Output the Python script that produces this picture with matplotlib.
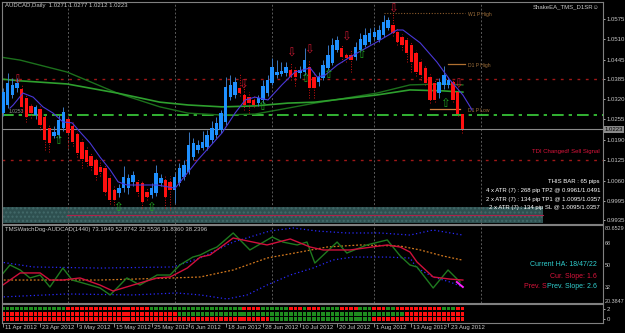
import matplotlib
matplotlib.use("Agg")
import matplotlib.pyplot as plt
from matplotlib.patches import Rectangle
import matplotlib.transforms as mtransforms

plt.rcParams['font.family'] = ['Liberation Sans', 'DejaVu Sans']

# daily candles, 11 Apr 2012 .. 28 Aug 2012
opens = [1.0276, 1.0301, 1.0333, 1.0355, 1.0352, 1.0323, 1.0298, 1.0269, 1.0288, 1.0263,
         1.0228, 1.0202, 1.0205, 1.0228, 1.0256, 1.0234, 1.0209, 1.0183, 1.0157, 1.0138,
         1.0126, 1.0103, 1.0100, 1.0068, 1.0030, 1.0020, 1.0036, 1.0036, 1.0055, 1.0055,
         1.0052, 1.0024, 1.0014, 1.0020, 1.0052, 1.0062, 1.0055, 1.0030, 1.0052, 1.0071,
         1.0087, 1.0135, 1.0157, 1.0164, 1.0167, 1.0189, 1.0205, 1.0221, 1.0247, 1.0327,
         1.0333, 1.0355, 1.0333, 1.0327, 1.0317, 1.0307, 1.0317, 1.0339, 1.0371, 1.0397,
         1.0400, 1.0403, 1.0413, 1.0413, 1.0403, 1.0406, 1.0422, 1.0390, 1.0374, 1.0387,
         1.0419, 1.0435, 1.0476, 1.0483, 1.0461, 1.0461, 1.0454, 1.0476, 1.0492, 1.0502,
         1.0518, 1.0508, 1.0524, 1.0547, 1.0556, 1.0534, 1.0518, 1.0508, 1.0492, 1.0467,
         1.0438, 1.0419, 1.0390, 1.0371, 1.0339, 1.0365, 1.0365, 1.0374, 1.0343, 1.0271]
closes = [1.0343, 1.0371, 1.0365, 1.0371, 1.0295, 1.0263, 1.0276, 1.0295, 1.0237, 1.0189,
          1.0180, 1.0215, 1.0253, 1.0279, 1.0212, 1.0183, 1.0148, 1.0129, 1.0119, 1.0106,
          1.0078, 1.0087, 1.0024, 0.9998, 0.9998, 1.0036, 1.0071, 1.0068, 1.0078, 1.0024,
          0.9992, 1.0008, 1.0036, 1.0084, 1.0068, 1.0008, 1.0030, 1.0071, 1.0100, 1.0110,
          1.0173, 1.0180, 1.0173, 1.0183, 1.0205, 1.0228, 1.0244, 1.0276, 1.0358, 1.0365,
          1.0374, 1.0339, 1.0301, 1.0307, 1.0301, 1.0323, 1.0362, 1.0381, 1.0422, 1.0406,
          1.0409, 1.0422, 1.0390, 1.0390, 1.0413, 1.0445, 1.0355, 1.0355, 1.0390, 1.0429,
          1.0461, 1.0492, 1.0508, 1.0454, 1.0451, 1.0445, 1.0486, 1.0512, 1.0524, 1.0531,
          1.0534, 1.0540, 1.0566, 1.0572, 1.0531, 1.0502, 1.0492, 1.0467, 1.0438, 1.0406,
          1.0397, 1.0371, 1.0317, 1.0317, 1.0374, 1.0397, 1.0381, 1.0317, 1.0272, 1.0223]
highs = [1.0355, 1.0403, 1.0387, 1.0387, 1.0365, 1.0333, 1.0307, 1.0301, 1.0298, 1.0272,
         1.0240, 1.0234, 1.0269, 1.0295, 1.0269, 1.0247, 1.0218, 1.0193, 1.0167, 1.0151,
         1.0132, 1.0126, 1.0110, 1.0078, 1.0043, 1.0049, 1.0106, 1.0081, 1.0091, 1.0068,
         1.0062, 1.0036, 1.0052, 1.0110, 1.0081, 1.0075, 1.0075, 1.0084, 1.0116, 1.0126,
         1.0215, 1.0196, 1.0189, 1.0218, 1.0221, 1.0250, 1.0263, 1.0285, 1.0390, 1.0397,
         1.0390, 1.0400, 1.0371, 1.0343, 1.0330, 1.0333, 1.0381, 1.0397, 1.0451, 1.0445,
         1.0438, 1.0438, 1.0438, 1.0425, 1.0425, 1.0483, 1.0445, 1.0406, 1.0406, 1.0445,
         1.0492, 1.0515, 1.0521, 1.0492, 1.0470, 1.0476, 1.0502, 1.0531, 1.0547, 1.0547,
         1.0550, 1.0556, 1.0588, 1.0582, 1.0595, 1.0547, 1.0528, 1.0518, 1.0502, 1.0476,
         1.0448, 1.0429, 1.0400, 1.0381, 1.0387, 1.0425, 1.0390, 1.0384, 1.0358, 1.0277]
lows = [1.0266, 1.0291, 1.0323, 1.0343, 1.0279, 1.0247, 1.0260, 1.0256, 1.0221, 1.0157,
        1.0151, 1.0196, 1.0196, 1.0218, 1.0164, 1.0170, 1.0135, 1.0100, 1.0106, 1.0094,
        1.0062, 1.0075, 1.0014, 0.9985, 0.9982, 1.0008, 1.0024, 1.0017, 1.0043, 1.0011,
        0.9972, 0.9998, 1.0004, 1.0011, 1.0043, 0.9972, 0.9966, 0.9988, 1.0043, 1.0062,
        1.0081, 1.0126, 1.0148, 1.0157, 1.0157, 1.0180, 1.0196, 1.0212, 1.0237, 1.0317,
        1.0323, 1.0330, 1.0285, 1.0276, 1.0295, 1.0298, 1.0307, 1.0330, 1.0365, 1.0387,
        1.0394, 1.0394, 1.0381, 1.0362, 1.0387, 1.0397, 1.0323, 1.0323, 1.0362, 1.0381,
        1.0413, 1.0429, 1.0470, 1.0438, 1.0438, 1.0406, 1.0445, 1.0470, 1.0486, 1.0496,
        1.0508, 1.0502, 1.0518, 1.0540, 1.0521, 1.0492, 1.0476, 1.0438, 1.0406, 1.0394,
        1.0381, 1.0365, 1.0307, 1.0311, 1.0323, 1.0352, 1.0355, 1.0311, 1.0266, 1.0212]

# fast MA (purple), read at sample bars
ma_bar = [1.5, 2.2, 4.3, 6.5, 8.6, 10.8, 12.9, 14.9, 16.6, 18.75, 20.9, 23.1, 24.8, 26.7, 30.2,
          33.2, 37.1, 42.0, 47.2, 50.0, 52.2, 54.3, 57.1, 60.1, 62.9, 66.2, 67.7, 69.4, 72.0,
          74.8, 80.6, 84.9, 86.2, 89.9, 93.5, 96.3, 99.1, 101.1]
ma_val = [1.0291, 1.0301, 1.0339, 1.0326, 1.0295, 1.0275, 1.0247, 1.0244, 1.0215, 1.0180, 1.0135,
          1.0094, 1.0056, 1.0046, 1.0046, 1.0046, 1.0036, 1.0126, 1.0212, 1.0275, 1.0317, 1.0326,
          1.0317, 1.0365, 1.0406, 1.0419, 1.0390, 1.0396, 1.0428, 1.0454, 1.0502, 1.0540, 1.0540,
          1.0499, 1.0438, 1.0381, 1.0333, 1.0285]

# slow MAs (green)
slow_bar = [-0.65, 3.7, 13.8, 24.6, 33.8, 39.9, 47.2, 54.3, 61.4, 67.2, 80.6, 87.7, 94.8, 99.1]
ma_dark = [1.0454, 1.0444, 1.0406, 1.0339, 1.0295, 1.0275, 1.0269, 1.0272, 1.0291, 1.0307,
           1.0339, 1.0365, 1.0368, 1.0365]
ma_bright = [1.0384, 1.0378, 1.0368, 1.0339, 1.0310, 1.0301, 1.0295, 1.0298, 1.0307, 1.0310,
             1.0333, 1.0349, 1.0346, 1.0342]

red_arrow_bar = [3, 51.7, 62.1, 65.9, 73.9, 84.1, 98.1]
red_arrow_val = [1.0381, 1.0365, 1.0467, 1.0476, 1.0518, 1.0608, 1.0368]
green_arrow_bar = [11.9, 24.8, 31.9, 55.8, 65.1, 70.0, 77.2, 95.3]
green_arrow_val = [1.0189, 0.9973, 0.9973, 1.0295, 1.0384, 1.0397, 1.0463, 1.0307]

price_ticks = [1.0575, 1.0510, 1.0445, 1.0385, 1.0320, 1.0255, 1.0190, 1.0125, 1.0060, 0.9995, 0.9935]
month_bars = [14, 37, 58, 80, 103]

# TDI indicator
rsi_bar = [-0.65, 1.5, 3.7, 5.8, 8.0, 10.1, 12.9, 14.9, 17.2, 20.9, 23.1, 26.7, 29.5, 33.2, 36.0,
           38.1, 40.9, 42.5, 44.6, 46.1, 49.6, 53.2, 58.0, 60.3, 63.4, 65.5, 67.2, 72.0, 74.1,
           78.4, 82.8, 85.6, 87.7, 89.2, 92.7, 95.9, 98.5]
rsi_val = [40.2, 50.0, 45.9, 39.4, 41.8, 32.0, 47.5, 37.7, 35.3, 31.2, 25.5, 39.4, 33.6, 41.8, 41.8,
           50.0, 56.5, 58.2, 62.3, 64.7, 76.2, 62.3, 72.9, 68.8, 66.4, 68.8, 51.6, 68.8, 59.8,
           66.4, 70.5, 57.4, 50.0, 48.4, 31.2, 45.9, 36.1]
sig_bar = [-0.65, 3.7, 8.0, 10.1, 12.9, 16.6, 20.9, 23.7, 28.0, 33.2, 36.0, 39.7, 42.5, 44.6, 49.6,
           56.9, 61.9, 66.2, 69.0, 74.8, 82.8, 85.6, 87.7, 89.2, 92.7, 96.3, 99.1]
sig_val = [32.0, 43.5, 43.5, 37.7, 37.7, 39.4, 33.6, 28.7, 33.6, 39.4, 40.2, 47.5, 56.5, 58.2, 72.1,
           66.4, 71.3, 64.7, 62.3, 62.3, 66.4, 64.7, 60.6, 52.5, 40.2, 38.5, 37.7]
base_bar = [-0.65, 20.9, 36.6, 42.5, 49.6, 56.9, 64.0, 69.8, 76.9, 85.6, 89.9, 94.8, 98.9]
base_val = [37.7, 37.7, 39.4, 40.2, 45.9, 55.7, 60.6, 64.7, 66.4, 65.5, 62.3, 57.4, 54.1]
up_bar = [-0.65, 6.5, 20.9, 36.6, 42.5, 49.6, 57.5, 62.5, 67.7, 74.1, 81.3, 87.7, 92.7, 99.1]
up_val = [52.5, 48.4, 47.5, 48.4, 55.7, 68.8, 77.8, 80.3, 77.8, 76.2, 76.2, 74.5, 78.6, 74.5]
lo_bar = [-0.65, 13.8, 28.0, 37.5, 42.5, 48.3, 52.6, 56.9, 61.9, 66.8, 71.1, 75.4, 82.8, 87.7,
          89.2, 92.7, 96.3, 99.1]
lo_val = [23.8, 26.3, 25.5, 27.1, 25.5, 22.2, 25.5, 33.6, 41.8, 47.5, 54.1, 56.5, 56.5, 55.7,
          47.5, 40.2, 36.1, 32.0]
slope_bar = [97.8, 99.1]
slope_val = [36.1, 32.0]

# signal rows (2 = top, 0 = bottom), g = green, r = red
row2 = 'g' * 14 + 'r' * 18 + 'g' * 20 + 'r' * 4 + 'g' * 6 + 'r' * 3 + 'g' + 'r' * 3 + 'g' * 4 + 'r' * 4 + 'g' * 3 + 'r' * 3 + 'g' * 2 + 'r' * 10 + 'g' * 3 + 'r' * 2
row1 = 'r' * 38 + 'g' * 49 + 'r' * 13
row0 = 'r' * 58 + 'g' * 22 + 'r' * 20

date_bars = [0, 8, 16, 24, 32, 40, 48, 56, 64, 72, 80, 88, 96]
date_labels = ['11 Apr 2012', '23 Apr 2012', '3 May 2012', '15 May 2012', '25 May 2012', '6 Jun 2012',
               '18 Jun 2012', '28 Jun 2012', '10 Jul 2012', '20 Jul 2012', '1 Aug 2012',
               '13 Aug 2012', '23 Aug 2012']

W, H = 625, 333
fig = plt.figure(figsize=(W / 100, H / 100), dpi=100, facecolor='black')


def px_axes(x0, y0, x1, y1):
    return fig.add_axes([x0 / W, 1 - y1 / H, (x1 - x0) / W, (y1 - y0) / H], facecolor='black')


ax = px_axes(2, 2, 603, 224)
ax2 = px_axes(2, 225, 603, 303)
ax3 = px_axes(2, 304, 603, 323)
xl = (-0.22, 129.3)
fs = 4.3
fg = '#c8c8c8'

for a in (ax, ax2, ax3):
    a.set_xlim(*xl)
    for s in a.spines.values():
        s.set_color('#808080')
        s.set_linewidth(0.8)
    a.yaxis.tick_right()
    a.tick_params(axis='y', colors=fg, labelsize=fs, length=1.5, width=0.6, pad=1.0)
    a.tick_params(axis='x', length=0)
    a.set_xticklabels([])

# ---- main price panel
ax.set_ylim(0.99217, 1.06292)
for b in month_bars:
    ax.axvline(b, color='#5a5a5a', lw=0.7, ls=(0, (2, 2)))
    ax2.axvline(b, color='#5a5a5a', lw=0.7, ls=(0, (2, 2)))

ax.axhline(1.0384, color='#a01818', lw=1.0, ls=(0, (2, 4)))
ax.axhline(1.0126, color='#a01818', lw=1.0, ls=(0, (2, 4)))
ax.axhline(1.0269, color='#3cd23c', lw=1.2, ls=(0, (7, 3, 2, 3)))
ax.axhline(1.0223, color='#8a8a8a', lw=0.8)

blend = mtransforms.blended_transform_factory(ax.transAxes, ax.transData)
ax.add_patch(Rectangle((0, 0.99248), 0.9, 0.0051, transform=blend, facecolor='#2e5050',
                       edgecolor='#436a6a', hatch='....', lw=0, zorder=1))
ax.plot([13.8, 116.4], [0.99503, 0.99503], color='#b0204a', lw=0.8, zorder=2)

ax.plot(slow_bar, ma_dark, color='#1c701c', lw=1.0)
ax.plot(slow_bar, ma_bright, color='#2ea02e', lw=1.2)

for i in range(len(opens)):
    o, h, l, c = opens[i], highs[i], lows[i], closes[i]
    up = c >= o
    col = '#1e90ff' if up else '#ff1010'
    ax.vlines(i, l, h, color='#3a78c0' if up else '#d01010', lw=0.7,
              linestyles='-' if up else ':', zorder=3)
    ax.bar(i, max(abs(c - o), 0.00008), bottom=min(o, c), width=0.74, color=col, zorder=4, lw=0)

ax.plot(ma_bar, ma_val, color='#4a38d8', lw=0.8, zorder=5)

for b, v in zip(red_arrow_bar, red_arrow_val):
    ax.text(b, v, '\u21e9', color='#c01830', fontsize=8.5, ha='center', va='center',
            family='DejaVu Sans', zorder=6)
for b, v in zip(green_arrow_bar, green_arrow_val):
    ax.text(b, v, '\u21e7', color='#20a020', fontsize=8.5, ha='center', va='center',
            family='DejaVu Sans', zorder=6)

# pivot markers
ax.plot([82, 99.5], [1.0594, 1.0594], color='#8b5a2b', lw=0.8, ls=(0, (1, 1.5)))
ax.plot([96, 99.5], [1.0432, 1.0432], color='#b07030', lw=0.9)
ax.plot([92, 98.5], [1.0288, 1.0288], color='#d08040', lw=0.9)
ax.text(100.3, 1.0590, 'W1 P High', color='#a0703a', fontsize=3.6, va='center')
ax.text(100.3, 1.0428, 'D1 P High', color='#a0703a', fontsize=3.6, va='center')
ax.text(100.3, 1.0284, 'D1 P Low', color='#a0703a', fontsize=3.6, va='center')
ax.text(1.2, 1.0279, '1.0253', color='#909090', fontsize=3.6, va='center', zorder=2)

ax.set_yticks(price_ticks)
ax.set_yticklabels([f'{t:.4f}' for t in price_ticks])
ax.text(1.003, 1.0223, '1.0223', transform=blend, color='black', fontsize=fs, va='center',
        bbox=dict(boxstyle='square,pad=0.15', fc='#8a8a8a', ec='none'))

# ---- TDI panel
ax2.set_ylim(18.91, 82.73)
ax2.plot(up_bar, up_val, color='#2a2aff', lw=0.9, ls=(0, (1, 2)))
ax2.plot(lo_bar, lo_val, color='#2a2aff', lw=0.9, ls=(0, (1, 2)))
ax2.plot(base_bar, base_val, color='#d2781e', lw=0.9, ls=(0, (1.5, 1.5)))
ax2.plot(rsi_bar, rsi_val, color='#1f7a1f', lw=1.0)
ax2.plot(sig_bar, sig_val, color='#d0103c', lw=1.0)
ax2.plot(slope_bar, slope_val, color='#ff20ff', lw=1.4)
ax2.set_yticks([80.6529, 68, 50, 32, 20.3847])
ax2.set_yticklabels(['80.6529', '68', '50', '32', '20.3847'])
ax2.tick_params(axis='y', labelsize=3.9, length=0, pad=1.2)

# ---- signal rows
ax3.set_ylim(-0.76, 2.86)
colmap = {'g': '#1e8c1e', 'r': '#ff1010'}
for v, row in ((2, row2), (1, row1), (0, row0)):
    ax3.scatter(range(len(row)), [v] * len(row), c=[colmap[ch] for ch in row], marker='s',
                s=7, linewidths=0)
ax3.set_yticks([2, 0])
ax3.set_yticklabels(['2', '0'])
ax3.set_xticks(date_bars)
ax3.tick_params(axis='x', length=3, color='#a0a0a0', width=0.6, direction='out')
ax3.set_xticklabels([])
tb = mtransforms.blended_transform_factory(ax3.transData, ax3.transAxes)
for b, lab in zip(date_bars, date_labels):
    ax3.text(b + 0.45, -0.1, lab, transform=tb, color=fg, fontsize=fs, va='top', ha='left')

# ---- texts
def ftext(x, y, s, **kw):
    kw.setdefault('fontsize', fs)
    kw.setdefault('va', 'center')
    fig.text(x / W, 1 - y / H, s, **kw)


ftext(5, 6, 'AUDCAD,Daily  1.0271 1.0277 1.0212 1.0223', color=fg)
ftext(599, 7, 'ShakeEA_TMS_D1SR\u263a', color=fg, ha='right')
ftext(600, 151, 'TDI Changed! Sell Signal', color='#dc143c', ha='right')
ftext(600, 182, 'THIS BAR : 65 pips', color='white', ha='right')
ftext(600, 191, '4 x ATR (7) : 268 pip TP2 @ 0.9961/1.0491', color='white', ha='right')
ftext(600, 199, '2 x ATR (7) : 134 pip TP1 @ 1.0095/1.0357', color='white', ha='right')
ftext(600, 207, '2 x ATR (7) : 134 pip SL @ 1.0095/1.0357', color='white', ha='right')
ftext(5, 230, 'TMSWatchDog-AUDCAD(1440) 73.1949 52.8742 32.5536 31.8360 38.2396', color=fg)
ftext(597, 264, 'Current HA: 18/47/22', color='#30d0d0', ha='right', fontsize=5)
ftext(597, 276, 'Cur. Slope: 1.6', color='#dc143c', ha='right', fontsize=5)
ftext(524, 287, 'Prev. S', color='#dc143c', ha='left', fontsize=5)
ftext(597, 287, 'Prev. Slope: 2.6', color='#30d0d0', ha='right', fontsize=5)

fig.savefig('out.png', dpi=100, facecolor='black')
